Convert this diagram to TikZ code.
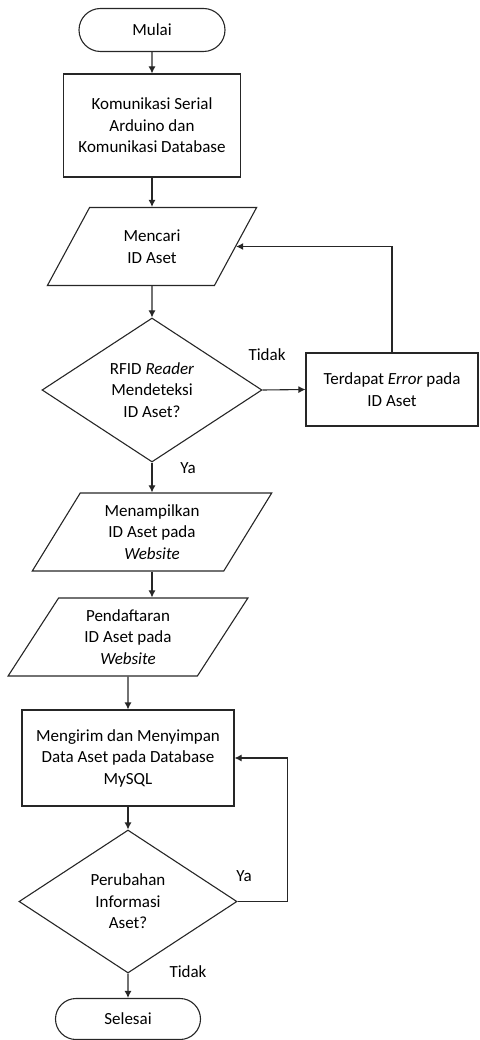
\documentclass[tikz,border=0pt]{standalone}
\usepackage{fontspec}
\setmainfont{Carlito}
\usetikzlibrary{shapes.geometric,shapes.misc,arrows.meta}
\tikzset{
  base/.style={draw=black!85,line width=1.1pt,inner sep=0pt,align=center},
  terminal/.style={base,rounded rectangle,minimum width=146pt,minimum height=43pt},
  process/.style={base,rectangle},
  io/.style={base,trapezium,trapezium left angle=60,trapezium right angle=120,trapezium stretches=true,minimum height=78pt},
  decision/.style={base,diamond,shape aspect=1.5},
  flow/.style={draw=black!85,line width=1.1pt,-{Latex[length=7pt,width=7pt]}}
}
\begin{document}
\begin{tikzpicture}[x=1pt,y=-1pt]\fontsize{17}{21.5}\selectfont
\useasboundingbox (0,0) rectangle (479,1040);
\node[terminal] (mulai) at (152,30) {Mulai};
\node[process,minimum width=177pt,minimum height=103pt] (koneksi) at (152,125.5) {Komunikasi Serial\\Arduino dan\\Komunikasi Database};
\node[io,minimum width=211pt] (cari) at (152,246.5) {Mencari\\ID Aset};
\node[decision,minimum width=220pt,minimum height=144pt] (deteksi) at (152,390) {RFID \textit{Reader}\\Mendeteksi\\ID Aset?};
\node[process,minimum width=172pt,minimum height=73pt] (galat) at (392,389.5) {Terdapat \textit{Error} pada\\ID Aset};
\node[io,minimum width=240pt] (tampil) at (152,532) {Menampilkan\\ID Aset pada\\\textit{Website}};
\node[io,minimum width=240pt] (daftar) at (128,637) {Pendaftaran\\ID Aset pada\\\textit{Website}};
\node[process,minimum width=212pt,minimum height=96pt] (simpan) at (128,758) {Mengirim dan Menyimpan\\Data Aset pada Database\\MySQL};
\node[decision,minimum width=218pt,minimum height=143pt] (ubah) at (128,901.5) {Perubahan\\Informasi\\Aset?};
\node[terminal,minimum width=145pt,minimum height=41pt] (selesai) at (128,1019) {Selesai};
\node (tidak1) at (267,355) {Tidak};
\node (ya1) at (188,468) {Ya};
\node (ya2) at (244,876) {Ya};
\node (tidak2) at (188,972) {Tidak};
\draw[flow] (mulai) -- (koneksi);
\draw[flow] (koneksi) -- (cari);
\draw[flow] (cari) -- (deteksi);
\draw[flow] (deteksi.east) -- (galat.west);
\draw[flow] (galat.north) |- (cari.east);
\draw[flow] (deteksi) -- (tampil);
\draw[flow] (tampil.south) -- (tampil.south |- daftar.north);
\draw[flow] (daftar) -- (simpan);
\draw[flow] (simpan) -- (ubah);
\draw[flow] (ubah.east) -- ++(50,0) |- (simpan.east);
\draw[flow] (ubah) -- (selesai);
\end{tikzpicture}
\end{document}
